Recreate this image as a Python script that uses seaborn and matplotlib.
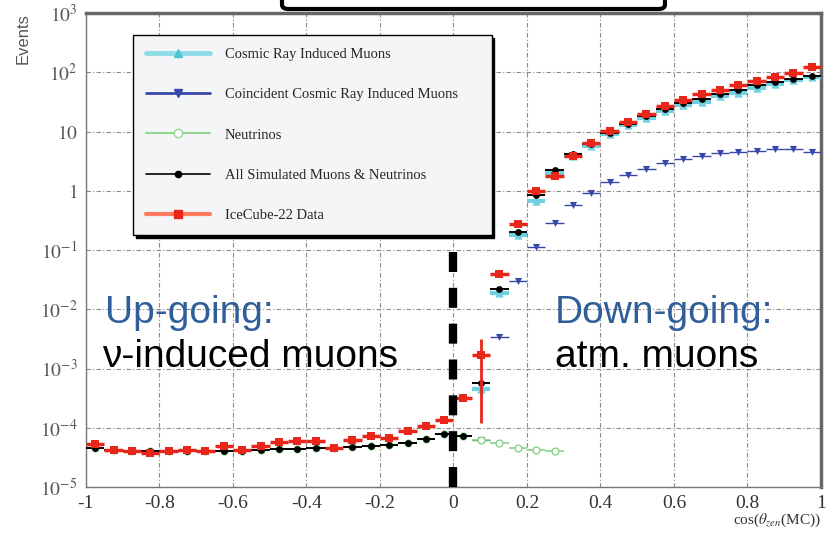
import numpy as np
import pandas as pd
import matplotlib
matplotlib.use("Agg")
import matplotlib.pyplot as plt
import seaborn as sns
from matplotlib.lines import Line2D
from matplotlib.patches import FancyBboxPatch
from matplotlib.ticker import FixedLocator, LogLocator, NullFormatter

# ---- data ----
# bin centres of cos(theta_zen), bin width 0.05
bin_centres = [-0.975, -0.925, -0.875, -0.825, -0.775, -0.725, -0.675, -0.625,
               -0.575, -0.525, -0.475, -0.425, -0.375, -0.325, -0.275, -0.225,
               -0.175, -0.125, -0.075, -0.025, 0.025, 0.075, 0.125, 0.175,
               0.225, 0.275, 0.325, 0.375, 0.425, 0.475, 0.525, 0.575,
               0.625, 0.675, 0.725, 0.775, 0.825, 0.875, 0.925, 0.975]
half_width = 0.025

# IceCube-22 data
data_y = [5.3e-5, 4.2e-5, 4.1e-5, 3.7e-5, 4.1e-5, 4.2e-5, 4.1e-5, 5.0e-5,
          4.2e-5, 4.9e-5, 5.8e-5, 6.0e-5, 6.0e-5, 4.6e-5, 6.2e-5, 7.2e-5,
          6.6e-5, 8.7e-5, 1.07e-4, 1.35e-4, 3.2e-4, 1.7e-3, 0.039, 0.275,
          1.0, 1.75, 3.85, 6.5, 10.2, 14.6, 19.7, 26.5,
          34.4, 43, 50, 61, 72, 83, 98, 122]
# the one large vertical error bar
data_err_x = [0.075]
data_err_y = [1.7e-3]
data_err_lo = [1.2e-4]
data_err_hi = [3.2e-3]

# all simulated muons & neutrinos
sim_y = [4.5e-5, 4.2e-5, 4.1e-5, 4.0e-5, 4.0e-5, 4.0e-5, 4.0e-5, 4.1e-5,
         4.1e-5, 4.2e-5, 4.3e-5, 4.4e-5, 4.5e-5, 4.6e-5, 4.8e-5, 5.0e-5,
         5.2e-5, 5.6e-5, 6.4e-5, 7.9e-5, 7.4e-5, 5.6e-4, 0.0224, 0.20,
         0.85, 2.2, 4.2, 6.2, 9.5, 13.5, 18, 24,
         30, 36, 43, 50, 60, 68, 78, 88]

# cosmic ray induced muons (down-going only)
cosmic_x = [0.075, 0.125, 0.175, 0.225, 0.275, 0.325, 0.375, 0.425, 0.475, 0.525,
            0.575, 0.625, 0.675, 0.725, 0.775, 0.825, 0.875, 0.925, 0.975]
cosmic_y = [4.5e-4, 0.0186, 0.18, 0.66, 2.0, 3.9, 5.8, 9.0, 12.8, 17,
            22.5, 28, 32, 39, 45, 55, 63, 73, 83]

# coincident cosmic ray induced muons
coinc_x = cosmic_x
coinc_y = [6.1e-5, 3.4e-3, 0.030, 0.113, 0.29, 0.58, 0.91, 1.38, 1.87, 2.34,
           2.95, 3.5, 3.9, 4.27, 4.5, 4.67, 5.0, 5.0, 4.5]

# neutrinos
nu_x = bin_centres[:26]
nu_y = [4.5e-5, 4.2e-5, 4.1e-5, 4.0e-5, 4.0e-5, 4.0e-5, 4.0e-5, 4.1e-5,
        4.1e-5, 4.2e-5, 4.3e-5, 4.4e-5, 4.5e-5, 4.6e-5, 4.8e-5, 5.0e-5,
        5.2e-5, 5.6e-5, 6.4e-5, 7.9e-5, 7.4e-5, 6.3e-5, 5.6e-5, 4.6e-5,
        4.2e-5, 4.0e-5]

legend_labels = ["Cosmic Ray Induced Muons", "Coincident Cosmic Ray Induced Muons",
                 "Neutrinos", "All Simulated Muons & Neutrinos", "IceCube-22 Data"]

x_ticks = [-1, -0.8, -0.6, -0.4, -0.2, 0, 0.2, 0.4, 0.6, 0.8, 1]
x_tick_labels = ["-1", "-0.8", "-0.6", "-0.4", "-0.2", "0", "0.2", "0.4", "0.6", "0.8", "1"]
y_ticks = [1e-5, 1e-4, 1e-3, 1e-2, 1e-1, 1, 10, 100, 1000]
y_tick_labels = ["$10^{-5}$", "$10^{-4}$", "$10^{-3}$", "$10^{-2}$", "$10^{-1}$",
                 "$1$", "$10$", "$10^{2}$", "$10^{3}$"]

# ---- colours ----
c_cosmic = "#6fd0e0"
c_coinc = "#3848aa"
c_nu = "#88d488"
c_sim = "black"
c_data = "#e8261a"
c_up = "#2f5e98"

sns.set_style("white")
plt.rcParams["mathtext.fontset"] = "stix"
plt.rcParams["font.family"] = ["Liberation Sans", "DejaVu Sans"]

fig = plt.figure(figsize=(8.34, 5.4), dpi=100)
ax = fig.add_axes([0.1031, 0.0981, 0.8813, 0.8778])
ax.set_yscale("log")

# horizontal (bin width) bars
ax.errorbar(cosmic_x, cosmic_y, xerr=half_width, fmt="none", ecolor=c_cosmic, elinewidth=3, zorder=3)
ax.errorbar(coinc_x, coinc_y, xerr=half_width, fmt="none", ecolor=c_coinc, elinewidth=1, zorder=3)
ax.errorbar(nu_x, nu_y, xerr=half_width, fmt="none", ecolor=c_nu, elinewidth=1.2, zorder=3)
ax.errorbar(bin_centres, sim_y, xerr=half_width, fmt="none", ecolor=c_sim, elinewidth=1.4, zorder=4)
ax.errorbar(bin_centres, data_y, xerr=half_width, fmt="none", ecolor=c_data, elinewidth=2.5, zorder=5)
err_lo = [y - lo for y, lo in zip(data_err_y, data_err_lo)]
err_hi = [hi - y for y, hi in zip(data_err_y, data_err_hi)]
ax.errorbar(data_err_x, data_err_y, yerr=[err_lo, err_hi], fmt="none", ecolor=c_data, elinewidth=2, zorder=5)

# markers
sns.scatterplot(x=cosmic_x, y=cosmic_y, marker="^", color=c_cosmic, s=36, linewidth=0, ax=ax, zorder=3)
sns.scatterplot(x=coinc_x, y=coinc_y, marker="v", color=c_coinc, s=26, linewidth=0, ax=ax, zorder=3)
sns.scatterplot(x=nu_x, y=nu_y, marker="o", facecolor="white", edgecolor=c_nu, s=24, linewidth=1, ax=ax, zorder=3)
sns.scatterplot(x=bin_centres, y=sim_y, marker="o", color=c_sim, s=24, linewidth=0, ax=ax, zorder=4)
sns.scatterplot(x=bin_centres, y=data_y, marker="s", color=c_data, s=38, linewidth=0, ax=ax, zorder=5)

# up/down-going boundary
ax.plot([0, 0], [1e-5, 0.55], color="black", lw=6, ls=(0, (2.4, 1.9)),
        solid_capstyle="butt", dash_capstyle="butt", zorder=6)

ax.set_xlim(-1, 1)
ax.set_ylim(1e-5, 1e3)

# grid and ticks
ax.grid(True, which="major", color="#8a8a8a", lw=0.8, ls=(0, (4, 2, 1, 2)))
ax.set_xticks(x_ticks, x_tick_labels, family="Liberation Serif", fontsize=14, color="#333333")
ax.set_yticks(y_ticks, y_tick_labels, fontsize=14, color="#555555")
ax.xaxis.set_minor_locator(FixedLocator(np.arange(-1, 1.001, 0.05)))
ax.yaxis.set_minor_locator(LogLocator(base=10, subs=np.arange(2, 10)))
ax.yaxis.set_minor_formatter(NullFormatter())
ax.tick_params(which="major", direction="in", length=10, width=1, color="#333333",
               top=False, right=False, pad=6)
ax.tick_params(which="minor", direction="in", length=5, width=1, color="#333333",
               top=False, right=False)
ax.set_xlabel("")
ax.set_ylabel("")

for side in ["left", "bottom"]:
    ax.spines[side].set_color("#777777")
    ax.spines[side].set_linewidth(1)
for side in ["top", "right"]:
    ax.spines[side].set_color("#666666")
    ax.spines[side].set_linewidth(2.5)

fig.text(0.984, 0.03, r"cos($\theta_{zen}$(MC))", ha="right", va="baseline",
         family="Liberation Serif", fontsize=11, color="#333333")
fig.text(0.028, 0.975, "Events", rotation=90, ha="center", va="top",
         fontsize=12, color="#555555")

# region labels
ax.text(-0.948, 10 ** -2.232, "Up-going:", color=c_up, fontsize=28, va="baseline")
ax.text(-0.955, 10 ** -2.975, "\u03bd-induced muons", color="black", fontsize=28, va="baseline")
ax.text(0.276, 10 ** -2.232, "Down-going:", color=c_up, fontsize=28, va="baseline")
ax.text(0.276, 10 ** -2.975, "atm. muons", color="black", fontsize=28, va="baseline")

# legend
handles = [
    Line2D([], [], color="#8fdbe6", lw=3.5, marker="^", ms=6, mfc="#4fc4d6", mec="#4fc4d6"),
    Line2D([], [], color=c_coinc, lw=2, marker="v", ms=6, mfc=c_coinc, mec=c_coinc),
    Line2D([], [], color="#93d993", lw=1.5, marker="o", ms=6, mfc="white", mec="#93d993"),
    Line2D([], [], color="black", lw=1.2, marker="o", ms=4.5),
    Line2D([], [], color="#ff7a5c", lw=3, marker="s", ms=6, mfc=c_data, mec=c_data),
]
leg = ax.legend(handles, legend_labels, loc="upper left", bbox_to_anchor=(0.064, 0.605, 0.488, 0.349),
                mode="expand", borderaxespad=0, prop={"family": "Liberation Serif", "size": 10.5},
                labelspacing=1.85, handlelength=4.4, handletextpad=1.0, borderpad=0.9,
                frameon=True, fancybox=False, facecolor="#f4f5f7", edgecolor="black",
                framealpha=1, shadow={"color": "black", "alpha": 1})
leg.get_frame().set_linewidth(1)
leg.set_zorder(10)

# title box cut off at the top of the canvas
fig.add_artist(FancyBboxPatch((282 / 834, 531 / 540), (665 - 282) / 834, 0.1,
                              boxstyle="round,pad=0,rounding_size=0.008",
                              transform=fig.transFigure, fc="white", ec="black", lw=3,
                              clip_on=False))

fig.savefig("out.png", dpi=100)
